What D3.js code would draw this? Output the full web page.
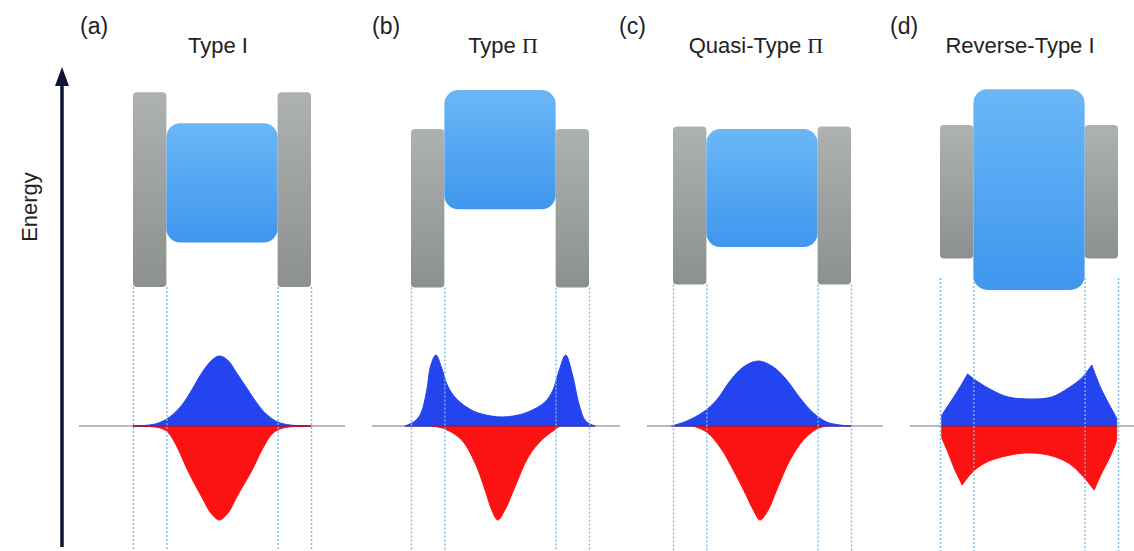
<!DOCTYPE html>
<html>
<head>
<meta charset="utf-8">
<script src="https://cdn.jsdelivr.net/npm/d3@7"></script>
<style>
  html, body { margin: 0; padding: 0; background: #fff; }
  svg { display: block; font-family: "Liberation Sans", Arial, sans-serif; }
</style>
</head>
<body>
<svg width="1134" height="551"></svg>
<script>
// band alignment + carrier wavefunctions, four heterostructure types

const panelLabels = ["(a)", "(b)", "(c)", "(d)"];
const panelTitles = ["Type I", "Type \u03A0", "Quasi-Type \u03A0", "Reverse-Type I"];

// layer boundaries along the growth axis (shell | core | shell)
const layerBounds = [-4, -2.5, 2.5, 4];

// band edges [valence, conduction], arbitrary energy units
const shellBands = [[0.19, 4.83], [0.18, 3.95], [0.25, 4.01], [0.87, 4.05]];
const coreBands  = [[1.25, 4.09], [2.04, 4.88], [1.14, 3.95], [0.12, 4.90]];

// where the zero line runs for each panel
const baselineSpan = [[-6.43, 5.53], [-5.75, 5.39], [-5.17, 5.44], [-5.35, 5.6]];

// electron wavefunction (upper, blue) - segments of [position, amplitude]
const electronWave = [
  [[[-4, 0], [-3.5, 0.005], [-3.0, 0.02], [-2.65, 0.05], [-2.35, 0.09], [-2.04, 0.15],
    [-1.7, 0.24], [-1.36, 0.36], [-0.91, 0.53], [-0.45, 0.66], [-0.12, 0.70], [0.25, 0.66],
    [0.66, 0.53], [1.17, 0.36], [1.5, 0.25], [1.85, 0.15], [2.2, 0.08], [2.5, 0.04],
    [2.9, 0.015], [3.3, 0.005], [4, 0]]],
  [[[-4.27, 0], [-3.82, 0.05], [-3.55, 0.13], [-3.29, 0.36], [-3.12, 0.60], [-2.88, 0.71],
    [-2.62, 0.58], [-2.35, 0.40], [-1.95, 0.27], [-1.2, 0.15], [-0.4, 0.10], [0.08, 0.09],
    [0.6, 0.10], [1.26, 0.14], [2.02, 0.24], [2.38, 0.36], [2.65, 0.55], [2.95, 0.71],
    [3.25, 0.52], [3.55, 0.22], [3.85, 0.05], [4.27, 0]]],
  [[[-4.06, 0], [-3.38, 0.05], [-2.64, 0.14], [-2.04, 0.26], [-1.44, 0.45], [-0.84, 0.59],
    [-0.17, 0.65], [0.51, 0.59], [1.11, 0.46], [1.71, 0.28], [2.31, 0.13], [2.91, 0.04],
    [3.5, 0.01], [4.0, 0]]],
  [[[-3.92, 0.11], [-3.47, 0.26], [-3.10, 0.39], [-2.76, 0.52]],
   [[-2.76, 0.52], [-2.28, 0.44], [-1.68, 0.36], [-0.93, 0.29], [0.12, 0.27], [1.02, 0.29],
    [1.77, 0.38], [2.37, 0.48], [2.82, 0.61]],
   [[2.82, 0.61], [3.27, 0.36], [3.79, 0.14], [3.94, 0.08]]]
];

// hole wavefunction (lower, red)
const holeWave = [
  [[[-4, 0], [-3.4, -0.003], [-3.0, -0.01], [-2.65, -0.03], [-2.4, -0.07], [-2.04, -0.2],
    [-1.53, -0.45], [-0.91, -0.71], [-0.5, -0.87], [-0.12, -0.94], [0.27, -0.87], [0.66, -0.71],
    [1.33, -0.45], [1.84, -0.22], [2.25, -0.08], [2.6, -0.03], [3.0, -0.01], [3.4, -0.003], [4, 0]]],
  [[[-3.07, 0], [-2.47, -0.03], [-1.72, -0.14], [-1.12, -0.37], [-0.67, -0.64], [-0.37, -0.84],
    [-0.10, -0.94], [0.22, -0.84], [0.67, -0.61], [1.27, -0.31], [1.87, -0.14], [2.32, -0.06],
    [2.70, 0]]],
  [[[-3.10, 0], [-2.49, -0.06], [-1.89, -0.21], [-1.29, -0.44], [-0.76, -0.67], [-0.39, -0.84],
    [-0.09, -0.94], [0.28, -0.84], [0.66, -0.64], [1.26, -0.34], [1.86, -0.14], [2.46, -0.03],
    [2.91, 0]]],
  [[[-3.92, -0.12], [-3.63, -0.27], [-3.33, -0.44], [-3.00, -0.59]],
   [[-3.00, -0.59], [-2.58, -0.47], [-1.98, -0.37], [-1.23, -0.31], [-0.18, -0.27], [0.87, -0.29],
    [1.77, -0.37], [2.37, -0.49], [2.93, -0.64]],
   [[2.93, -0.64], [3.27, -0.47], [3.64, -0.31], [3.90, -0.17], [3.94, -0.14]]]
];

// layout
const panelLeft = [133, 411, 673, 940];
const panelW = 178;
const labelX = [80, 372, 619, 890];
const titleX = [218, 503, 756, 1020];

const svg = d3.select("svg");

const defs = svg.append("defs");
const grayGrad = defs.append("linearGradient").attr("id", "gray").attr("x1", 0).attr("y1", 0).attr("x2", 0).attr("y2", 1);
grayGrad.append("stop").attr("offset", "0%").attr("stop-color", "#adb1b0");
grayGrad.append("stop").attr("offset", "100%").attr("stop-color", "#8c9190");
const blueGrad = defs.append("linearGradient").attr("id", "blue").attr("x1", 0).attr("y1", 0).attr("x2", 0).attr("y2", 1);
blueGrad.append("stop").attr("offset", "0%").attr("stop-color", "#6ab7f7");
blueGrad.append("stop").attr("offset", "100%").attr("stop-color", "#3f96ed");

const eScale = d3.scaleLinear().domain([0, 5]).range([295, 85]);
const aScale = d3.scaleLinear().domain([-1, 1]).range([526, 326]);
const dotBottom = 551;

panelLabels.forEach((lab, i) => {
    const x = d3.scaleLinear().domain([-4, 4]).range([panelLeft[i], panelLeft[i] + panelW]);
    const g = svg.append("g");

    // shell bands
    const shells = [[layerBounds[0], layerBounds[1]], [layerBounds[2], layerBounds[3]]];
    g.selectAll("rect.shell")
        .data(shells)
        .enter()
        .append("rect")
        .attr("class", "shell")
        .attr("x", d => x(d[0]))
        .attr("width", d => x(d[1]) - x(d[0]))
        .attr("y", eScale(shellBands[i][1]))
        .attr("height", eScale(shellBands[i][0]) - eScale(shellBands[i][1]))
        .attr("rx", 4)
        .attr("fill", "url(#gray)");

    // core band
    g.append("rect")
        .attr("x", x(layerBounds[1]))
        .attr("width", x(layerBounds[2]) - x(layerBounds[1]))
        .attr("y", eScale(coreBands[i][1]))
        .attr("height", eScale(coreBands[i][0]) - eScale(coreBands[i][1]))
        .attr("rx", 14)
        .attr("fill", "url(#blue)");

    // zero line
    g.append("line")
        .attr("x1", x(baselineSpan[i][0])).attr("x2", x(baselineSpan[i][1]))
        .attr("y1", aScale(0)).attr("y2", aScale(0))
        .attr("stroke", "#b8b8c0")
        .attr("stroke-width", 2);

    const area = d3.area()
        .x(d => x(d[0]))
        .y0(aScale(0))
        .y1(d => aScale(d[1]))
        .curve(d3.curveCatmullRom.alpha(0.5));

    g.selectAll("path.el")
        .data(electronWave[i])
        .enter()
        .append("path")
        .attr("class", "el")
        .attr("d", area)
        .attr("fill", "#2444ef")
        .attr("stroke", "#2444ef")
        .attr("stroke-width", 1);

    g.selectAll("path.ho")
        .data(holeWave[i])
        .enter()
        .append("path")
        .attr("class", "ho")
        .attr("d", area)
        .attr("fill", "#fb1212")
        .attr("stroke", "#fb1212")
        .attr("stroke-width", 1);

    // junction line between the two lobes
    const ext = d3.extent(electronWave[i].flat().concat(holeWave[i].flat()), d => d[0]);
    g.append("line")
        .attr("x1", x(ext[0])).attr("x2", x(ext[1]))
        .attr("y1", aScale(0)).attr("y2", aScale(0))
        .attr("stroke", "#4a1a7a")
        .attr("stroke-width", 1.2)
        .attr("opacity", 0.7);

    // dotted guides at the layer boundaries, over the waves
    const dotTop = eScale(Math.min(shellBands[i][0], coreBands[i][0])) - 12;
    g.selectAll("line.guide")
        .data(layerBounds)
        .enter()
        .append("line")
        .attr("class", "guide")
        .attr("x1", d => x(d) + 0.5).attr("x2", d => x(d) + 0.5)
        .attr("y1", Math.max(dotTop, eScale(shellBands[i][0]))).attr("y2", dotBottom)
        .attr("stroke", "#7db9df")
        .attr("stroke-width", 1.4)
        .attr("stroke-dasharray", "2,2");

    // labels
    svg.append("text")
        .attr("x", labelX[i]).attr("y", 34)
        .attr("font-size", 23)
        .attr("fill", "#222")
        .text(lab);

    const t = svg.append("text")
        .attr("x", titleX[i]).attr("y", 53)
        .attr("text-anchor", "middle")
        .attr("font-size", 22)
        .attr("fill", "#222");
    const parts = panelTitles[i].split("\u03A0");
    t.append("tspan").text(parts[0]);
    if (parts.length > 1) {
        t.append("tspan")
            .attr("font-family", "'Liberation Serif', 'Times New Roman', serif")
            .text("\u03A0");
    }
});

// energy axis
svg.append("line")
    .attr("x1", 62).attr("x2", 62)
    .attr("y1", 547).attr("y2", 82)
    .attr("stroke", "#0e1534")
    .attr("stroke-width", 3.5);
svg.append("path")
    .attr("d", "M62,67 L55,86 L69,86 Z")
    .attr("fill", "#0e1534");
svg.append("text")
    .attr("transform", "translate(37,207) rotate(-90)")
    .attr("text-anchor", "middle")
    .attr("font-size", 22)
    .attr("fill", "#222")
    .text("Energy");
</script>
</body>
</html>
